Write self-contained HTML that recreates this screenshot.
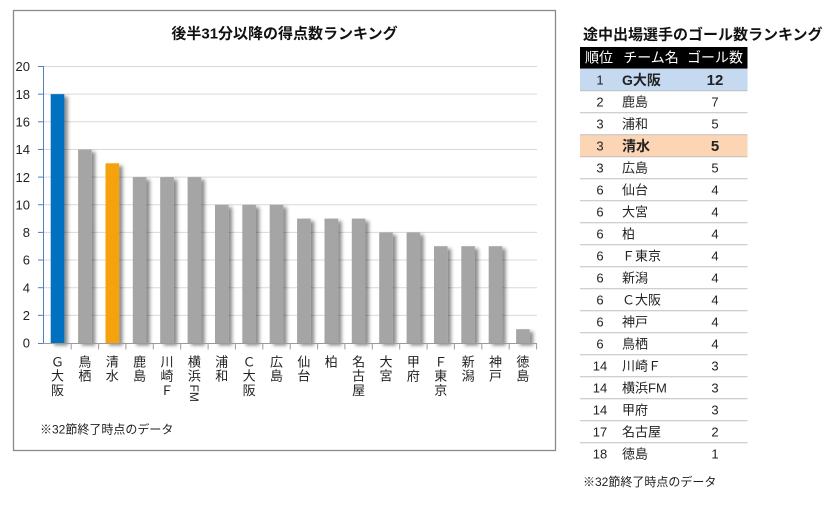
<!DOCTYPE html>
<html><head><meta charset="utf-8">
<style>
html,body{margin:0;padding:0;background:#fff;}
svg{display:block;}
text{font-family:"Liberation Sans","Noto Sans CJK JP",sans-serif;}
</style></head>
<body>
<svg width="840" height="506" viewBox="0 0 840 506" xmlns="http://www.w3.org/2000/svg">
<defs>
<filter id="sh" x="-50%" y="-10%" width="200%" height="130%">
<feDropShadow dx="3.5" dy="2.5" stdDeviation="1.8" flood-color="#000" flood-opacity="0.45"/>
</filter>
</defs>
<rect width="840" height="506" fill="#fff"/>
<rect x="13.5" y="10.5" width="542" height="440" fill="#fff" stroke="#8a8a8a" stroke-width="1.3"/>
<text x="284.5" y="38.5" text-anchor="middle" font-size="15" font-weight="bold" fill="#111">後半31分以降の得点数ランキング</text>

<g stroke="#d9d9d9" stroke-width="1">
<line x1="43" y1="66.5" x2="537" y2="66.5"/>
<line x1="43" y1="94.15" x2="537" y2="94.15"/>
<line x1="43" y1="121.8" x2="537" y2="121.8"/>
<line x1="43" y1="149.45" x2="537" y2="149.45"/>
<line x1="43" y1="177.1" x2="537" y2="177.1"/>
<line x1="43" y1="204.75" x2="537" y2="204.75"/>
<line x1="43" y1="232.4" x2="537" y2="232.4"/>
<line x1="43" y1="260.05" x2="537" y2="260.05"/>
<line x1="43" y1="287.7" x2="537" y2="287.7"/>
<line x1="43" y1="315.35" x2="537" y2="315.35"/>
</g>

<g font-size="13" fill="#222" text-anchor="end">
<text x="30" y="71.2">20</text>
<text x="30" y="98.8">18</text>
<text x="30" y="126.5">16</text>
<text x="30" y="154.1">14</text>
<text x="30" y="181.8">12</text>
<text x="30" y="209.4">10</text>
<text x="30" y="237.1">8</text>
<text x="30" y="264.7">6</text>
<text x="30" y="292.4">4</text>
<text x="30" y="320">2</text>
<text x="30" y="347.7">0</text>
</g>

<g filter="url(#sh)">
<rect x="50.7" y="94.15" width="13.6" height="248.85" fill="#0070c0"/>
<rect x="78.1" y="149.45" width="13.6" height="193.55" fill="#a5a5a5"/>
<rect x="105.5" y="163.3" width="13.6" height="179.7" fill="#f5a20f"/>
<rect x="132.8" y="177.1" width="13.6" height="165.9" fill="#a5a5a5"/>
<rect x="160.2" y="177.1" width="13.6" height="165.9" fill="#a5a5a5"/>
<rect x="187.6" y="177.1" width="13.6" height="165.9" fill="#a5a5a5"/>
<rect x="215.0" y="204.75" width="13.6" height="138.25" fill="#a5a5a5"/>
<rect x="242.3" y="204.75" width="13.6" height="138.25" fill="#a5a5a5"/>
<rect x="269.7" y="204.75" width="13.6" height="138.25" fill="#a5a5a5"/>
<rect x="297.1" y="218.6" width="13.6" height="124.4" fill="#a5a5a5"/>
<rect x="324.5" y="218.6" width="13.6" height="124.4" fill="#a5a5a5"/>
<rect x="351.8" y="218.6" width="13.6" height="124.4" fill="#a5a5a5"/>
<rect x="379.2" y="232.4" width="13.6" height="110.6" fill="#a5a5a5"/>
<rect x="406.6" y="232.4" width="13.6" height="110.6" fill="#a5a5a5"/>
<rect x="434.0" y="246.2" width="13.6" height="96.8" fill="#a5a5a5"/>
<rect x="461.3" y="246.2" width="13.6" height="96.8" fill="#a5a5a5"/>
<rect x="488.7" y="246.2" width="13.6" height="96.8" fill="#a5a5a5"/>
<rect x="516.1" y="329.2" width="13.6" height="13.8" fill="#a5a5a5"/>
</g>

<g stroke="#4f81bd" stroke-width="1">
<line x1="43.5" y1="66" x2="43.5" y2="344"/>
<line x1="38" y1="66.5" x2="43.5" y2="66.5"/>
<line x1="38" y1="94.15" x2="43.5" y2="94.15"/>
<line x1="38" y1="121.8" x2="43.5" y2="121.8"/>
<line x1="38" y1="149.45" x2="43.5" y2="149.45"/>
<line x1="38" y1="177.1" x2="43.5" y2="177.1"/>
<line x1="38" y1="204.75" x2="43.5" y2="204.75"/>
<line x1="38" y1="232.4" x2="43.5" y2="232.4"/>
<line x1="38" y1="260.05" x2="43.5" y2="260.05"/>
<line x1="38" y1="287.7" x2="43.5" y2="287.7"/>
<line x1="38" y1="315.35" x2="43.5" y2="315.35"/>
<line x1="38" y1="343.5" x2="43.5" y2="343.5"/>
</g>
<g stroke="#9a9a9a" stroke-width="1">
<line x1="43" y1="343.5" x2="537" y2="343.5"/>
<line x1="71.2" y1="343.5" x2="71.2" y2="349.5"/>
<line x1="98.6" y1="343.5" x2="98.6" y2="349.5"/>
<line x1="125.9" y1="343.5" x2="125.9" y2="349.5"/>
<line x1="153.3" y1="343.5" x2="153.3" y2="349.5"/>
<line x1="180.7" y1="343.5" x2="180.7" y2="349.5"/>
<line x1="208.1" y1="343.5" x2="208.1" y2="349.5"/>
<line x1="235.4" y1="343.5" x2="235.4" y2="349.5"/>
<line x1="262.8" y1="343.5" x2="262.8" y2="349.5"/>
<line x1="290.2" y1="343.5" x2="290.2" y2="349.5"/>
<line x1="317.6" y1="343.5" x2="317.6" y2="349.5"/>
<line x1="344.9" y1="343.5" x2="344.9" y2="349.5"/>
<line x1="372.3" y1="343.5" x2="372.3" y2="349.5"/>
<line x1="399.7" y1="343.5" x2="399.7" y2="349.5"/>
<line x1="427.1" y1="343.5" x2="427.1" y2="349.5"/>
<line x1="454.4" y1="343.5" x2="454.4" y2="349.5"/>
<line x1="481.8" y1="343.5" x2="481.8" y2="349.5"/>
<line x1="509.2" y1="343.5" x2="509.2" y2="349.5"/>
<line x1="536.6" y1="343.5" x2="536.6" y2="349.5"/>
</g>

<g font-size="13" fill="#222" text-anchor="middle">
<text x="57.5" y="366.4">Ｇ</text><text x="57.5" y="380.7">大</text><text x="57.5" y="395">阪</text>
<text x="84.9" y="366.4">鳥</text><text x="84.9" y="380.7">栖</text>
<text x="112.3" y="366.4">清</text><text x="112.3" y="380.7">水</text>
<text x="139.6" y="366.4">鹿</text><text x="139.6" y="380.7">島</text>
<text x="167.0" y="366.4">川</text><text x="167.0" y="380.7">崎</text><text x="167.0" y="395">Ｆ</text>
<text x="194.4" y="366.4">横</text><text x="194.4" y="380.7">浜</text>
<text x="221.8" y="366.4">浦</text><text x="221.8" y="380.7">和</text>
<text x="249.1" y="366.4">Ｃ</text><text x="249.1" y="380.7">大</text><text x="249.1" y="395">阪</text>
<text x="276.5" y="366.4">広</text><text x="276.5" y="380.7">島</text>
<text x="303.9" y="366.4">仙</text><text x="303.9" y="380.7">台</text>
<text x="331.3" y="366.4">柏</text>
<text x="358.6" y="366.4">名</text><text x="358.6" y="380.7">古</text><text x="358.6" y="395">屋</text>
<text x="386.0" y="366.4">大</text><text x="386.0" y="380.7">宮</text>
<text x="413.4" y="366.4">甲</text><text x="413.4" y="380.7">府</text>
<text x="440.8" y="366.4">Ｆ</text><text x="440.8" y="380.7">東</text><text x="440.8" y="395">京</text>
<text x="468.1" y="366.4">新</text><text x="468.1" y="380.7">潟</text>
<text x="495.5" y="366.4">神</text><text x="495.5" y="380.7">戸</text>
<text x="522.9" y="366.4">徳</text><text x="522.9" y="380.7">島</text>
</g>
<text x="190" y="384.5" font-size="12" fill="#222" transform="rotate(90 190 384.5)">FM</text>

<text x="40" y="433.5" font-size="12" fill="#222">※32節終了時点のデータ</text>

<text x="583" y="39.5" font-size="15" font-weight="bold" fill="#111">途中出場選手のゴール数ランキング</text>
<rect x="580" y="47" width="167.5" height="21.7" fill="#000"/>
<g font-size="14" fill="#fff" text-anchor="middle">
<text x="599" y="62.7">順位</text>
<text x="651" y="62.7">チーム名</text>
<text x="715" y="62.7">ゴール数</text>
</g>
<rect x="580" y="68.7" width="167.5" height="22" fill="#c5d9f1"/>
<rect x="580" y="134.7" width="167.5" height="22" fill="#fcd5b4"/>
<g stroke="#bfbfbf" stroke-width="1">
<line x1="580" y1="90.7" x2="747.5" y2="90.7"/>
<line x1="580" y1="112.7" x2="747.5" y2="112.7"/>
<line x1="580" y1="134.7" x2="747.5" y2="134.7"/>
<line x1="580" y1="156.7" x2="747.5" y2="156.7"/>
<line x1="580" y1="178.7" x2="747.5" y2="178.7"/>
<line x1="580" y1="200.7" x2="747.5" y2="200.7"/>
<line x1="580" y1="222.7" x2="747.5" y2="222.7"/>
<line x1="580" y1="244.7" x2="747.5" y2="244.7"/>
<line x1="580" y1="266.7" x2="747.5" y2="266.7"/>
<line x1="580" y1="288.7" x2="747.5" y2="288.7"/>
<line x1="580" y1="310.7" x2="747.5" y2="310.7"/>
<line x1="580" y1="332.7" x2="747.5" y2="332.7"/>
<line x1="580" y1="354.7" x2="747.5" y2="354.7"/>
<line x1="580" y1="376.7" x2="747.5" y2="376.7"/>
<line x1="580" y1="398.7" x2="747.5" y2="398.7"/>
<line x1="580" y1="420.7" x2="747.5" y2="420.7"/>
<line x1="580" y1="442.7" x2="747.5" y2="442.7"/>
</g>
<g font-size="13" fill="#222">
<text x="600" y="84.5" text-anchor="middle">1</text>
<text x="622" y="84.8" font-size="14" font-weight="bold">G大阪</text>
<text x="715" y="85.2" text-anchor="middle" font-size="15" font-weight="bold">12</text>

<text x="600" y="106.5" text-anchor="middle">2</text><text x="622" y="106.5">鹿島</text><text x="715" y="106.5" text-anchor="middle">7</text>
<text x="600" y="128.5" text-anchor="middle">3</text><text x="622" y="128.5">浦和</text><text x="715" y="128.5" text-anchor="middle">5</text>

<text x="600" y="150.5" text-anchor="middle">3</text>
<text x="622" y="150.8" font-size="14" font-weight="bold">清水</text>
<text x="715" y="151.2" text-anchor="middle" font-size="15" font-weight="bold">5</text>

<text x="600" y="172.5" text-anchor="middle">3</text><text x="622" y="172.5">広島</text><text x="715" y="172.5" text-anchor="middle">5</text>
<text x="600" y="194.5" text-anchor="middle">6</text><text x="622" y="194.5">仙台</text><text x="715" y="194.5" text-anchor="middle">4</text>
<text x="600" y="216.5" text-anchor="middle">6</text><text x="622" y="216.5">大宮</text><text x="715" y="216.5" text-anchor="middle">4</text>
<text x="600" y="238.5" text-anchor="middle">6</text><text x="622" y="238.5">柏</text><text x="715" y="238.5" text-anchor="middle">4</text>
<text x="600" y="260.5" text-anchor="middle">6</text><text x="622" y="260.5">Ｆ東京</text><text x="715" y="260.5" text-anchor="middle">4</text>
<text x="600" y="282.5" text-anchor="middle">6</text><text x="622" y="282.5">新潟</text><text x="715" y="282.5" text-anchor="middle">4</text>
<text x="600" y="304.5" text-anchor="middle">6</text><text x="622" y="304.5">Ｃ大阪</text><text x="715" y="304.5" text-anchor="middle">4</text>
<text x="600" y="326.5" text-anchor="middle">6</text><text x="622" y="326.5">神戸</text><text x="715" y="326.5" text-anchor="middle">4</text>
<text x="600" y="348.5" text-anchor="middle">6</text><text x="622" y="348.5">鳥栖</text><text x="715" y="348.5" text-anchor="middle">4</text>
<text x="600" y="370.5" text-anchor="middle">14</text><text x="622" y="370.5">川崎Ｆ</text><text x="715" y="370.5" text-anchor="middle">3</text>
<text x="600" y="392.5" text-anchor="middle">14</text><text x="622" y="392.5">横浜FM</text><text x="715" y="392.5" text-anchor="middle">3</text>
<text x="600" y="414.5" text-anchor="middle">14</text><text x="622" y="414.5">甲府</text><text x="715" y="414.5" text-anchor="middle">3</text>
<text x="600" y="436.5" text-anchor="middle">17</text><text x="622" y="436.5">名古屋</text><text x="715" y="436.5" text-anchor="middle">2</text>
<text x="600" y="458.5" text-anchor="middle">18</text><text x="622" y="458.5">徳島</text><text x="715" y="458.5" text-anchor="middle">1</text>
</g>
<text x="583" y="486" font-size="12" fill="#222">※32節終了時点のデータ</text>
</svg>
</body></html>
